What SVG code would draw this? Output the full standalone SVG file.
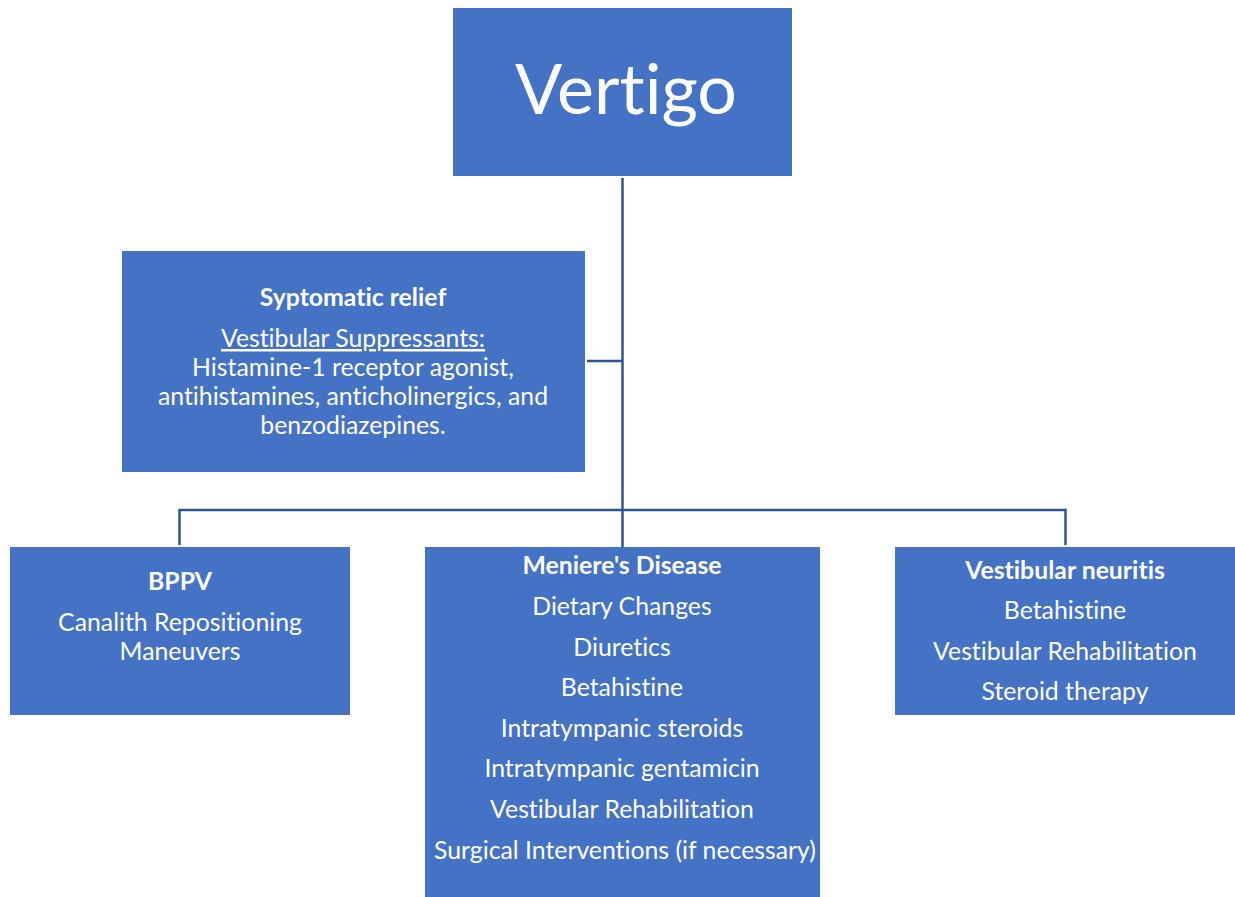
<svg xmlns="http://www.w3.org/2000/svg" width="1235" height="897" viewBox="0 0 1235 897">
<style>
.box{fill:#4472C4;}
.t{font-family:Lato,"Liberation Sans",sans-serif;fill:#fff;font-size:24.8px;text-anchor:middle;font-variant-ligatures:none;}
.b{font-weight:bold;}
.c{fill:none;stroke:#2F5597;stroke-width:2.5;}
</style>
<rect width="1235" height="897" fill="#fff"/>
<g id="connectors">
<path class="c" d="M622.5 178 V547"/>
<path class="c" d="M587 361 H622.5"/>
<path class="c" d="M179.5 545 V510 H1065.5 V545"/>
</g>
<g id="vertigo">
<rect class="box" x="453" y="8" width="339" height="168"/>
<text class="t" x="626" y="114" style="font-size:70px">Vertigo</text>
</g>
<g id="symptomatic">
<rect class="box" x="122" y="251" width="463" height="221"/>
<text class="t b" x="353" y="306">Syptomatic relief</text>
<text class="t" x="353" y="347" text-decoration="underline">Vestibular Suppressants:</text>
<text class="t" x="353" y="376">Histamine-1 receptor agonist,</text>
<text class="t" x="353" y="405">antihistamines, anticholinergics, and</text>
<text class="t" x="353" y="434">benzodiazepines.</text>
</g>
<g id="bppv">
<rect class="box" x="10" y="547" width="340" height="168"/>
<text class="t b" x="180" y="590">BPPV</text>
<text class="t" x="180" y="631">Canalith Repositioning</text>
<text class="t" x="180" y="660">Maneuvers</text>
</g>
<g id="meniere">
<rect class="box" x="425" y="547" width="395" height="350"/>
<text class="t b" x="622" y="574">Meniere's Disease</text>
<text class="t" x="622" y="615">Dietary Changes</text>
<text class="t" x="622" y="656">Diuretics</text>
<text class="t" x="622" y="696">Betahistine</text>
<text class="t" x="622" y="737">Intratympanic steroids</text>
<text class="t" x="622" y="777">Intratympanic gentamicin</text>
<text class="t" x="622" y="818">Vestibular Rehabilitation</text>
<text class="t" x="625" y="859">Surgical Interventions (if necessary)</text>
</g>
<g id="neuritis">
<rect class="box" x="895" y="547" width="340" height="168"/>
<text class="t b" x="1065" y="579">Vestibular neuritis</text>
<text class="t" x="1065" y="619">Betahistine</text>
<text class="t" x="1065" y="660">Vestibular Rehabilitation</text>
<text class="t" x="1065" y="700">Steroid therapy</text>
</g>
</svg>
